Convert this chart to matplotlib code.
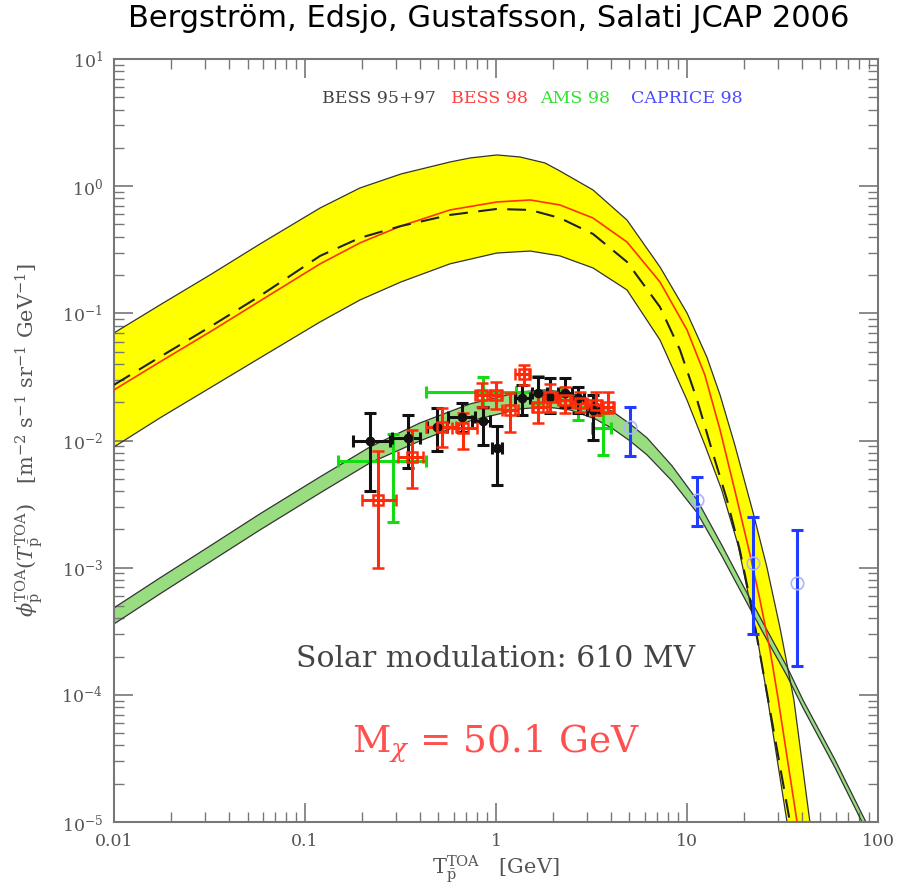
import numpy as np
import matplotlib
matplotlib.use("Agg")
from matplotlib import pyplot as plt

plt.rcParams["mathtext.fontset"] = "dejavuserif"

# ---- theory bands / curves ----
yel_up_x = [0.01, 0.0174, 0.0318, 0.0581, 0.120, 0.194, 0.318, 0.574, 0.731, 1.01, 1.336, 1.806,
            2.16, 3.22, 4.85, 7.22, 10.0, 12.7, 14.9, 17.8, 22.2, 26.2, 30.7, 36.3, 44.0]
yel_up_y = [0.0701, 0.1164, 0.2003, 0.351, 0.674, 0.968, 1.247, 1.549, 1.666, 1.76, 1.697, 1.522,
            1.317, 0.934, 0.542, 0.2317, 0.1007, 0.0454, 0.0228, 0.00923, 0.0027, 0.00101,
            3.36e-4, 9.1e-5, 1e-5]
yel_lo_x = [0.01, 0.0174, 0.0318, 0.0581, 0.120, 0.194, 0.318, 0.574, 1.01, 1.51, 2.16, 3.22,
            4.85, 7.22, 10.0, 12.4, 15.2, 18.5, 23.2, 26.5, 33.4]
yel_lo_y = [0.0089, 0.01505, 0.0259, 0.0446, 0.0856, 0.1274, 0.1765, 0.245, 0.298, 0.309, 0.283,
            0.2275, 0.1528, 0.0618, 0.0208, 0.00923, 0.00409, 0.00151, 2.96e-4, 9.1e-5, 1e-5]

red_x = [0.01, 0.0174, 0.0318, 0.0581, 0.120, 0.194, 0.318, 0.574, 1.01, 1.51, 2.16, 3.22, 4.85,
         7.22, 10.0, 12.4, 14.9, 18.3, 21.4, 24.1, 27.2, 29.9, 37.7]
red_y = [0.0250, 0.0415, 0.0714, 0.1251, 0.245, 0.358, 0.486, 0.650, 0.751, 0.779, 0.712, 0.562,
         0.364, 0.1765, 0.0741, 0.0328, 0.0121, 0.00341, 0.00126, 5.58e-4, 2.26e-4, 9.6e-5, 1e-5]

dash_x = [0.01, 0.0174, 0.0318, 0.0581, 0.120, 0.194, 0.318, 0.574, 1.01, 1.51, 2.16, 3.22, 4.85,
          7.22, 9.19, 11.3, 13.5, 16.2, 18.9, 21.4, 23.8, 26.2, 34.6]
dash_y = [0.0274, 0.0454, 0.0782, 0.1370, 0.283, 0.392, 0.486, 0.594, 0.662, 0.650, 0.562, 0.421,
          0.254, 0.1122, 0.0516, 0.0208, 0.00843, 0.00341, 0.00138, 5.58e-4, 2.34e-4, 1.04e-4, 1e-5]

grn_up_x = [0.01, 0.0174, 0.0318, 0.0581, 0.120, 0.219, 0.400, 0.731, 1.336, 1.806, 2.44, 3.30,
            4.10, 5.03, 6.18, 8.35, 11.3, 15.2, 20.6, 26.2, 33.4, 40.5, 59.6, 86.5]
grn_up_y = [4.83e-4, 8.31e-4, 1.48e-3, 2.65e-3, 5.18e-3, 8.9e-3, 0.01375, 0.0194, 0.0241, 0.025,
            0.0237, 0.0201, 0.0168, 0.0135, 0.01048, 6.32e-3, 3.41e-3, 1.51e-3, 6.34e-4, 3.24e-4,
            1.66e-4, 9.1e-5, 3.08e-5, 1e-5]
grn_lo_x = [0.01, 0.0174, 0.0318, 0.0581, 0.120, 0.219, 0.400, 0.731, 1.336, 1.806, 2.44, 3.30,
            4.10, 5.03, 6.18, 8.35, 11.3, 15.2, 20.6, 26.2, 33.4, 40.5, 59.6, 82.5]
grn_lo_y = [3.61e-4, 6.22e-4, 1.11e-3, 1.98e-3, 3.87e-3, 6.67e-3, 9.93e-3, 0.01426, 0.0177, 0.0184,
            0.0174, 0.01479, 0.01234, 9.93e-3, 7.70e-3, 4.81e-3, 2.70e-3, 1.24e-3, 5.29e-4,
            2.71e-4, 1.41e-4, 7.9e-5, 2.67e-5, 1e-5]

# ---- data: BESS 95+97 ----
b97_x = [0.219, 0.346, 0.491, 0.664, 0.855, 1.01, 1.37, 1.66, 1.92, 2.30, 2.69, 3.22]
b97_y = [9.9e-3, 0.0105, 0.0128, 0.0153, 0.0143, 8.75e-3, 0.0216, 0.0237, 0.0218, 0.0237, 0.0216, 0.0174]
b97_yhi = [0.0165, 0.0158, 0.018, 0.0198, 0.0184, 0.013, 0.0274, 0.0316, 0.031, 0.031, 0.0264, 0.0228]
b97_ylo = [4.0e-3, 6.1e-3, 8.3e-3, 0.0117, 9.3e-3, 4.48e-3, 0.0158, 0.0184, 0.0165, 0.0184, 0.0165, 0.0101]
b97_xlo = [0.178, 0.284, 0.435, 0.56, 0.75, 0.95, 1.26, 1.54, 1.76, 2.11, 2.5, 3.0]
b97_xhi = [0.279, 0.400, 0.552, 0.78, 0.93, 1.08, 1.51, 1.84, 2.09, 2.5, 2.9, 3.45]

# ---- BESS 98 ----
b98_x = [0.241, 0.363, 0.521, 0.672, 0.845, 1.0, 1.18, 1.40, 1.66, 1.92, 2.30, 2.75, 3.33, 3.86]
b98_y = [3.4e-3, 7.4e-3, 0.0128, 0.0126, 0.0228, 0.0228, 0.0174, 0.0334, 0.0184, 0.0218, 0.0208,
         0.0199, 0.019, 0.0184]
b98_yhi = [8.3e-3, 0.0121, 0.018, 0.0165, 0.0284, 0.029, 0.0237, 0.0393, 0.0241, 0.028, 0.0264,
           0.0241, 0.0241, 0.0241]
b98_ylo = [1.0e-3, 4.2e-3, 8.9e-3, 8.6e-3, 0.0184, 0.0178, 0.0117, 0.0274, 0.0137, 0.0168, 0.0165,
           0.0168, 0.0158, 0.0165]
b98_xlo = [0.199, 0.306, 0.43, 0.59, 0.78, 0.93, 1.08, 1.26, 1.54, 1.76, 2.11, 2.5, 3.05, 3.55]
b98_xhi = [0.30, 0.415, 0.62, 0.80, 0.93, 1.08, 1.30, 1.51, 1.84, 2.09, 2.5, 3.0, 3.6, 4.15]

# ---- AMS 98 ----
ams_x = [0.289, 0.86, 1.66, 2.69, 3.63]
ams_y = [6.9e-3, 0.0241, 0.0241, 0.0184, 0.0126]
ams_yhi = [0.0113, 0.0316, 0.032, 0.0218, 0.0165]
ams_ylo = [2.3e-3, 0.018, 0.0198, 0.0145, 7.7e-3]
ams_xlo = [0.149, 0.43, 1.28, 2.30, 3.17]
ams_xhi = [0.43, 1.28, 2.2, 3.0, 4.0]

# ---- CAPRICE 98 ----
cap_x = [5.03, 11.3, 22.2, 37.7]
cap_y = [0.0128, 0.0034, 1.09e-3, 7.6e-4]
cap_yhi = [0.0184, 5.18e-3, 2.5e-3, 1.98e-3]
cap_ylo = [7.6e-3, 2.13e-3, 3.0e-4, 1.69e-4]

SERIF = "DejaVu Serif"
GREY = "#555555"


def errs(v, lo, hi):
    v = np.array(v)
    return [v - np.array(lo), np.array(hi) - v]


def band(ax, ux, uy, lx, ly, color):
    px = list(ux) + list(lx)[::-1]
    py = list(uy) + list(ly)[::-1]
    ax.fill(px, py, color=color, lw=0, zorder=1)
    ax.plot(ux, uy, color="#333333", lw=0.9, zorder=2)
    ax.plot(lx, ly, color="#333333", lw=0.9, zorder=2)


fig = plt.figure(figsize=(9.12, 8.90), dpi=100)
ax = fig.add_axes([0.125, 0.0764, 0.8377, 0.8573])
ax.set_xscale("log")
ax.set_yscale("log")
ax.set_xlim(0.01, 100)
ax.set_ylim(1e-5, 10)

band(ax, yel_up_x, yel_up_y, yel_lo_x, yel_lo_y, "#ffff00")
ax.plot(red_x, red_y, color="#ff3300", lw=1.2, zorder=3)
ax.plot(dash_x, dash_y, color="#222222", lw=1.5, dashes=(9, 5), zorder=3)
band(ax, grn_up_x, grn_up_y, grn_lo_x, grn_lo_y, "#98dd80")

ek = dict(ls="none", capsize=4.5, capthick=2.2, elinewidth=2.2, zorder=5)
ax.errorbar(ams_x, ams_y, yerr=errs(ams_y, ams_ylo, ams_yhi),
            xerr=errs(ams_x, ams_xlo, ams_xhi), color="#11dd11", **ek)
ax.errorbar(b97_x, b97_y, yerr=errs(b97_y, b97_ylo, b97_yhi),
            xerr=errs(b97_x, b97_xlo, b97_xhi), color="#111111",
            marker="o", ms=6, **ek)
ax.errorbar(b98_x, b98_y, yerr=errs(b98_y, b98_ylo, b98_yhi),
            xerr=errs(b98_x, b98_xlo, b98_xhi), color="#ff2a0a",
            marker="s", ms=7, mfc="none", mew=1.8, **ek)
ax.errorbar(cap_x, cap_y, yerr=errs(cap_y, cap_ylo, cap_yhi),
            color="#1f3cff", **ek)
ax.plot(cap_x, cap_y, ls="none", marker="o", ms=9, mfc="none",
        mec="#aab4ff", mew=1.2, zorder=6)

# ticks & frame
for s in ax.spines.values():
    s.set_color("#777777")
    s.set_linewidth(1.5)
ax.tick_params(which="both", direction="in", top=True, right=True, colors="#777777")
ax.tick_params(which="major", length=14, width=1.2, labelsize=12.5, pad=8, labelcolor=GREY)
ax.tick_params(which="minor", length=7, width=1.0)
ax.set_xticks([0.01, 0.1, 1, 10, 100])
ax.set_xticklabels(["0.01", "0.1", "1", "10", "100"], fontfamily=SERIF)
ax.set_yticks([1e-5, 1e-4, 1e-3, 1e-2, 1e-1, 1, 10])
ax.set_yticklabels(["10$^{-5}$", "10$^{-4}$", "10$^{-3}$", "10$^{-2}$",
                    "10$^{-1}$", "10$^{0}$", "10$^{1}$"], fontfamily=SERIF)

# in-plot texts
leg_y = 0.942
ax.text(0.272, leg_y, "BESS 95+97", transform=ax.transAxes, color="#444444",
        fontsize=12.5, family=SERIF, va="baseline")
ax.text(0.441, leg_y, "BESS 98", transform=ax.transAxes, color="#ff4040",
        fontsize=12.5, family=SERIF, va="baseline")
ax.text(0.558, leg_y, "AMS 98", transform=ax.transAxes, color="#33e033",
        fontsize=12.5, family=SERIF, va="baseline")
ax.text(0.677, leg_y, "CAPRICE 98", transform=ax.transAxes, color="#4a4aff",
        fontsize=12.5, family=SERIF, va="baseline")
ax.text(0.499, 0.203, "Solar modulation: 610 MV", transform=ax.transAxes,
        color="#444444", fontsize=21.5, family=SERIF, ha="center", va="baseline")
ax.text(0.50, 0.092, r"M$_\chi$ = 50.1 GeV", transform=ax.transAxes,
        color="#ff5050", fontsize=27, family=SERIF, ha="center", va="baseline")

ax.set_ylabel(r"$\phi_{\bar{\rm p}}^{\rm TOA}(T_{\bar{\rm p}}^{\rm TOA})$   [m$^{-2}$ s$^{-1}$ sr$^{-1}$ GeV$^{-1}$]",
              fontsize=15, color=GREY, family=SERIF, labelpad=12)
ax.set_xlabel(r"T$_{\bar{\rm p}}^{\rm TOA}$   [GeV]", fontsize=15, color=GREY,
              family=SERIF, labelpad=2)

fig.suptitle("Bergström, Edsjo, Gustafsson, Salati JCAP 2006", x=0.536, y=0.995,
             fontsize=22, va="top")

fig.savefig("out.png", dpi=100)
